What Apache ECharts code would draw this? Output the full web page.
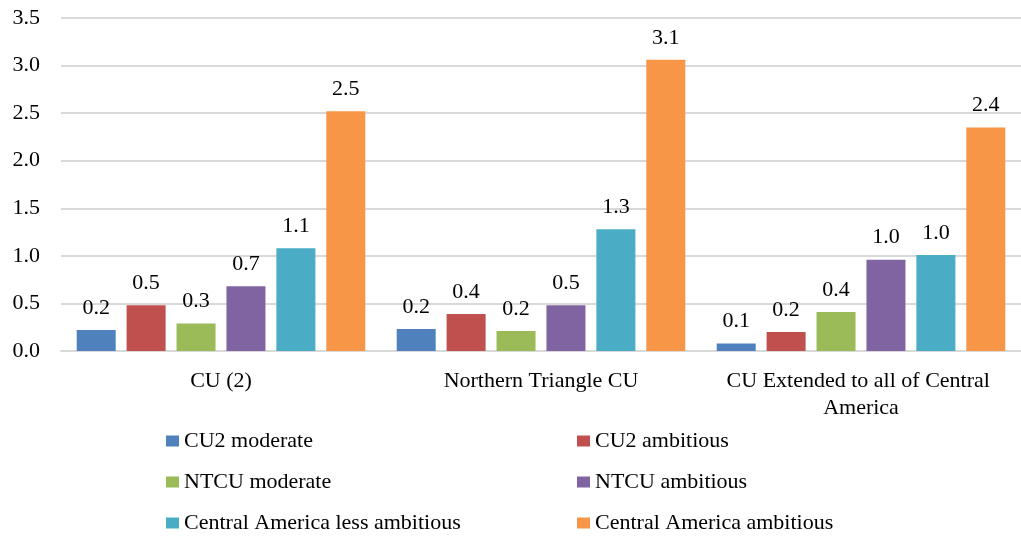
<!DOCTYPE html>
<html>
<head>
<meta charset="utf-8">
<script src="https://cdn.jsdelivr.net/npm/echarts@6/dist/echarts.min.js"></script>
<style>
  html, body { margin: 0; padding: 0; background: #fff; }
  #chart { width: 1021px; height: 538px; }
</style>
</head>
<body>
<div id="chart"></div>
<script>
// Regions along the x axis
const categories = ['CU (2)', 'Northern Triangle CU', 'CU Extended to all of Central America'];

// Scenario names (legend order)
const seriesNames = [
  'CU2 moderate', 'CU2 ambitious',
  'NTCU moderate', 'NTCU ambitious',
  'Central America less ambitious', 'Central America ambitious'
];

// Values per scenario, one entry per region
const cu2Moderate = [0.22, 0.23, 0.08];
const cu2Ambitious = [0.48, 0.39, 0.20];
const ntcuModerate = [0.29, 0.21, 0.41];
const ntcuAmbitious = [0.68, 0.48, 0.96];
const caLessAmbitious = [1.08, 1.28, 1.01];
const caAmbitious = [2.52, 3.06, 2.35];

const seriesValues = [cu2Moderate, cu2Ambitious, ntcuModerate, ntcuAmbitious, caLessAmbitious, caAmbitious];
const colors = ['#4f81bd', '#c0504d', '#9bbb59', '#8064a2', '#4bacc6', '#f79646'];

const FONT = '"Liberation Serif", "Times New Roman", serif';
const FS = 22;

function render() {
  const chart = echarts.init(document.getElementById('chart'), null, { renderer: 'canvas' });

  const legendBase = {
    orient: 'vertical',
    top: 430,
    height: 108,
    padding: 0,
    itemWidth: 13,
    itemHeight: 11,
    itemGap: 19,
    icon: 'rect',
    textStyle: { fontFamily: FONT, fontSize: FS, color: '#000' },
    selectedMode: false
  };

  chart.setOption({
    animation: false,
    color: colors,
    textStyle: { fontFamily: FONT },
    // plot area runs a little past the right edge of the canvas
    grid: { left: 61, top: 18, bottom: 187, width: 971, containLabel: false },
    legend: [
      Object.assign({}, legendBase, { left: 166, data: [seriesNames[0], seriesNames[2], seriesNames[4]] }),
      Object.assign({}, legendBase, { left: 577, data: [seriesNames[1], seriesNames[3], seriesNames[5]] })
    ],
    xAxis: {
      type: 'category',
      data: categories,
      axisLine: { lineStyle: { color: '#d9d9d9', width: 2 } },
      axisTick: { show: false },
      axisLabel: {
        interval: 0,
        fontFamily: FONT,
        fontSize: FS,
        color: '#000',
        margin: 17,
        lineHeight: 27,
        width: 310,
        overflow: 'break'
      }
    },
    yAxis: {
      type: 'value',
      min: 0,
      max: 3.5,
      interval: 0.5,
      axisLine: { show: false },
      axisTick: { show: false },
      splitLine: { lineStyle: { color: '#d9d9d9', width: 2 } },
      axisLabel: {
        fontFamily: FONT,
        fontSize: FS,
        color: '#000',
        margin: 21,
        formatter: v => v.toFixed(1)
      }
    },
    series: seriesNames.map((name, i) => ({
      name: name,
      type: 'bar',
      data: seriesValues[i],
      barWidth: 39,
      barGap: '28%',
      itemStyle: { color: colors[i] },
      label: {
        show: true,
        position: 'top',
        distance: 11,
        fontFamily: FONT,
        fontSize: FS,
        color: '#000',
        formatter: p => p.value.toFixed(1)
      }
    }))
  });
}

// make sure the serif face is ready before the canvas text is drawn
if (document.fonts && document.fonts.load) {
  document.fonts.load(FS + 'px "Liberation Serif"').then(render, render);
} else {
  render();
}
</script>
</body>
</html>
